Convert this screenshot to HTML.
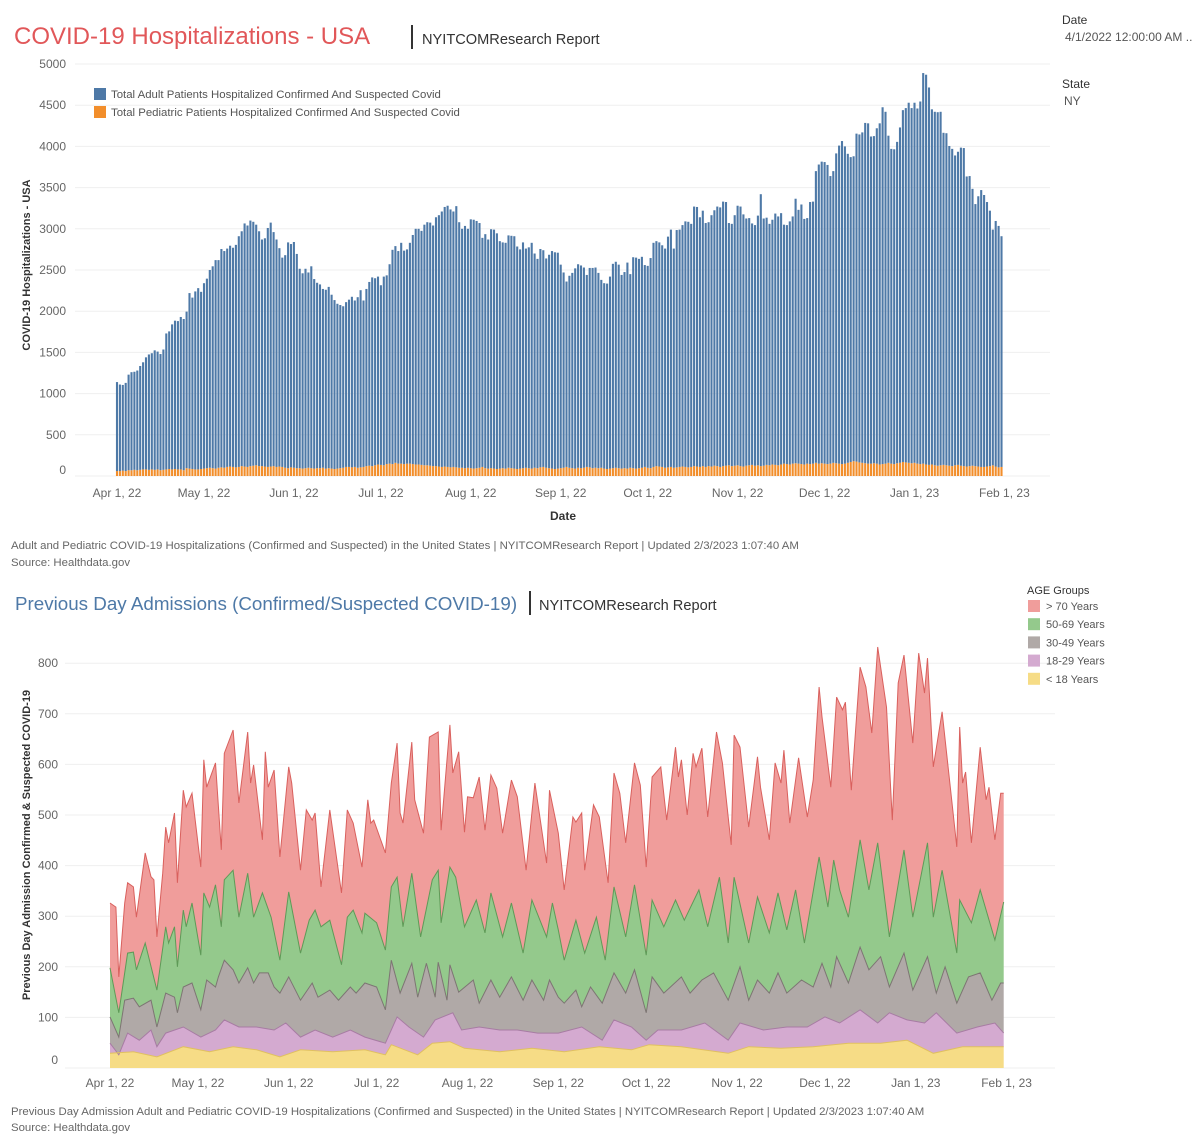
<!DOCTYPE html>
<html><head><meta charset="utf-8"><style>
body{margin:0;background:#fff;}
svg{display:block;font-family:"Liberation Sans",sans-serif;}
.tick{font-size:12px;fill:#666;}
.foot{font-size:11.4px;fill:#666;}
</style></head><body>
<svg id="page" width="1200" height="1145" viewBox="0 0 1200 1145" xmlns="http://www.w3.org/2000/svg">
<text x="14" y="44" font-size="24" fill="#e15759">COVID-19 Hospitalizations - USA</text>
<rect x="411" y="25" width="2" height="24" fill="#333"/>
<text x="422" y="44" font-size="14.6" fill="#333">NYITCOMResearch Report</text>
<text x="1062" y="24" font-size="12" fill="#333">Date</text>
<text x="1065" y="41" font-size="12" fill="#555">4/1/2022 12:00:00 AM ..</text>
<text x="1062" y="88" font-size="12" fill="#333">State</text>
<text x="1064" y="105" font-size="12" fill="#555">NY</text>
<g id="top"></g>
<text class="foot" x="11" y="549">Adult and Pediatric COVID-19 Hospitalizations (Confirmed and Suspected) in the United States | NYITCOMResearch Report | Updated 2/3/2023 1:07:40 AM</text>
<text class="foot" x="11" y="566">Source: Healthdata.gov</text>
<text x="15" y="610" font-size="18.8" fill="#4e79a7">Previous Day Admissions (Confirmed/Suspected COVID-19)</text>
<rect x="529" y="591" width="2" height="24" fill="#333"/>
<text x="539" y="610" font-size="14.6" fill="#333">NYITCOMResearch Report</text>
<g id="bot"></g>
<text class="foot" x="11" y="1115">Previous Day Admission Adult and Pediatric COVID-19 Hospitalizations (Confirmed and Suspected) in the United States | NYITCOMResearch Report | Updated 2/3/2023 1:07:40 AM</text>
<text class="foot" x="11" y="1131">Source: Healthdata.gov</text>
</svg>
<script>
// ---------- TOP CHART DATA ----------
const monthLabels = ["Apr 1, 22","May 1, 22","Jun 1, 22","Jul 1, 22","Aug 1, 22","Sep 1, 22","Oct 1, 22","Nov 1, 22","Dec 1, 22","Jan 1, 23","Feb 1, 23"];
const monthDays = [0,30,61,91,122,153,183,214,244,275,306];
const hospTicks = [0,500,1000,1500,2000,2500,3000,3500,4000,4500,5000];
const adultHosp = [
1080,1050,1040,1070,1160,1190,1190,1210,1260,1300,
1360,1400,1410,1450,1430,1410,1460,1650,1670,1760,
1800,1800,1850,1835,1900,2130,2080,2160,2200,2150,
2250,2300,2400,2450,2530,2520,2650,2630,2650,2680,
2660,2700,2800,2850,2950,2930,2980,2960,2920,2850,
2750,2770,2900,2960,2840,2760,2650,2540,2580,2740,
2710,2740,2600,2420,2370,2420,2370,2450,2300,2250,
2230,2170,2170,2200,2110,2050,2000,1980,1960,2000,
2030,2070,2020,2070,2150,2020,2150,2230,2290,2270,
2280,2180,2290,2290,2420,2600,2630,2580,2680,2590,
2600,2680,2780,2860,2860,2840,2920,2950,2950,2920,
3020,3050,3100,3150,3170,3130,3100,3170,2980,2900,
2940,2900,3020,3020,3000,2970,2780,2840,2780,2900,
2900,2860,2760,2740,2740,2820,2820,2820,2700,2660,
2740,2660,2680,2740,2600,2540,2650,2630,2540,2590,
2640,2630,2620,2470,2370,2250,2330,2370,2430,2470,
2460,2430,2330,2420,2430,2430,2370,2280,2250,2250,
2330,2480,2500,2470,2350,2380,2500,2350,2560,2560,
2540,2560,2450,2450,2550,2720,2730,2720,2690,2660,
2800,2880,2660,2880,2880,2930,2980,2980,2950,3150,
3150,3030,3100,2960,2960,3050,3100,3150,3150,3210,
3200,2940,2940,3040,3150,3150,3060,3000,3000,2930,
2920,3030,3300,3000,3000,2930,2970,3050,3020,3050,
2900,2900,2950,3000,3210,3080,3150,2980,2980,3180,
3180,3540,3630,3660,3660,3630,3490,3540,3760,3860,
3920,3850,3750,3700,3700,3980,3980,4010,4130,4130,
3970,3970,4070,4140,4330,4270,3970,3820,3820,3900,
4070,4270,4300,4370,4310,4370,4310,4400,4740,4730,
4580,4310,4290,4290,4290,4030,4030,3880,3850,3760,
3800,3860,3860,3520,3520,3360,3180,3280,3360,3300,
3210,3100,2860,2980,2930,2800];
const pedHosp = [
60,60,65,60,70,70,75,70,75,80, 80,75,80,75,80,70,75,80,85,80,
85,80,80,70,95,90,85,80,80,85, 90,95,100,95,90,100,105,100,110,115,
110,105,110,120,115,110,120,125,130,120, 120,115,110,115,120,110,115,110,100,95,
105,100,95,95,90,95,100,95,90,95, 95,100,90,95,90,85,90,95,100,110,
110,105,110,100,105,110,120,125,120,130, 140,135,130,145,150,145,160,150,150,145,
150,150,145,140,140,135,130,130,125,120, 120,115,110,115,110,105,110,105,100,100,
95,100,95,90,95,100,110,95,90,95, 90,85,90,95,90,100,95,90,85,90,
95,100,95,90,100,95,105,110,100,95, 90,85,90,95,100,110,100,95,90,100,
95,100,110,105,95,100,95,100,90,85, 90,95,100,95,90,95,90,100,95,90,
95,100,110,100,95,110,120,115,110,100, 105,110,100,105,110,115,110,105,110,120,
115,110,120,110,120,115,125,120,110,120, 125,130,120,125,130,120,115,125,130,135,
125,130,120,125,135,130,140,135,130,140, 150,145,140,150,155,150,145,140,150,145,
150,160,150,155,150,145,150,160,155,150, 145,150,160,170,180,175,165,160,155,150,
150,155,150,140,145,150,160,150,145,155, 160,170,165,160,155,160,150,145,150,140,
135,140,130,125,130,135,130,125,120,130, 135,125,120,115,120,125,120,115,110,110,
115,120,130,115,105,110];

// ---------- BOTTOM CHART DATA (cumulative stacked totals by day index) ----------
const admTicks = [0,100,200,300,400,500,600,700,800];
const ageGroups = ["> 70 Years","50-69 Years","30-49 Years","18-29 Years","< 18 Years"];
const over70Days = [0,2,3,5,6,8,9,12,14,15,16,18,19,20,22,23,25,26,28,31,32,33,36,38,39,42,44,47,48,49,52,53,54,56,58,61,62,65,67,69,70,72,75,79,81,83,86,88,89,90,94,96,98,99,100,103,104,107,109,112,113,116,117,119,121,122,124,126,128,130,132,134,137,139,142,145,149,150,153,155,158,159,161,162,165,167,170,172,174,176,179,181,183,185,188,190,193,194,195,197,199,200,202,204,207,209,212,213,215,218,221,222,225,227,229,230,232,235,238,240,242,243,246,248,250,251,253,256,258,260,262,265,267,269,271,274,276,278,279,281,284,289,290,291,292,294,297,299,300,302,304,305];
const over70Cum = [326,318,180,326,366,358,298,425,378,372,259,385,476,445,504,366,549,516,543,397,609,555,603,431,622,668,524,664,563,599,451,625,555,589,417,595,563,391,510,490,504,358,510,346,510,484,397,530,484,490,425,563,642,504,484,644,530,464,654,664,470,678,583,625,466,536,534,575,470,579,553,464,569,536,391,563,405,549,464,352,496,486,504,391,520,496,366,583,543,445,603,559,397,575,595,490,634,575,609,500,622,595,632,496,664,603,441,658,634,476,615,555,451,603,563,628,484,613,496,569,753,694,555,733,708,723,549,792,753,662,832,713,490,761,816,642,820,741,810,595,704,437,674,563,585,445,634,530,555,451,543,543];
const age5069Days = [0,3,6,8,9,12,16,19,20,22,23,25,26,28,31,32,34,36,38,39,42,44,47,49,52,55,58,61,65,68,70,72,75,79,81,83,86,87,91,94,96,98,100,103,106,110,112,113,116,118,121,125,128,130,134,137,141,144,149,151,153,155,159,162,166,169,172,176,179,183,185,189,193,196,201,204,208,211,213,218,221,225,228,231,234,237,242,245,247,249,252,256,259,262,266,271,274,279,281,284,289,290,294,297,302,305];
const age5069Cum = [198,109,227,229,194,247,154,279,247,279,200,312,279,326,223,346,318,362,279,372,391,298,385,298,346,298,213,348,227,292,312,279,292,204,298,312,267,306,287,233,358,377,279,385,259,372,391,287,397,377,279,332,267,346,259,326,227,332,259,326,273,213,292,227,298,213,358,259,362,223,332,279,332,292,352,279,377,247,377,247,338,267,346,273,352,247,417,318,411,352,298,451,352,445,259,431,298,445,298,391,227,332,287,352,253,328];
const age3049Days = [0,3,5,8,10,14,16,19,22,23,25,28,31,33,36,37,39,42,44,47,49,51,54,56,58,61,65,69,71,75,78,82,84,87,91,94,96,99,103,105,108,111,112,115,116,119,124,126,130,133,137,141,144,148,150,153,155,159,161,164,168,172,176,179,183,185,189,195,198,202,206,211,215,218,221,225,228,231,236,240,243,246,248,252,256,259,263,266,271,274,279,282,285,289,293,297,301,304,305];
const age3049Cum = [101,61,134,138,121,134,81,148,140,109,160,168,115,174,160,180,213,194,168,198,168,188,188,160,148,180,134,168,140,154,134,160,148,168,160,115,213,148,207,140,207,140,209,134,204,150,174,128,174,140,180,134,174,134,174,140,128,154,121,160,128,188,148,194,109,180,148,180,148,174,188,134,200,134,174,148,188,148,174,160,207,160,220,168,239,194,220,160,227,154,220,148,200,128,180,188,134,168,168];
const age1829Days = [0,3,6,10,14,16,19,25,31,36,39,44,50,56,60,65,70,76,82,87,94,98,102,107,111,117,120,126,133,139,146,153,161,168,172,178,183,187,195,203,211,215,223,231,238,244,249,256,262,266,272,278,282,289,296,302,305];
const age1829Cum = [49,26,69,55,75,42,69,81,61,75,95,81,81,75,89,61,75,61,75,61,49,101,81,61,95,109,75,81,75,75,69,69,81,55,95,81,55,75,75,89,55,89,75,81,81,101,89,115,89,109,95,89,109,69,81,89,69];
const under18Days = [0,8,16,25,34,42,50,58,65,76,87,94,96,105,110,116,121,133,144,155,167,178,184,195,211,218,229,240,252,263,272,281,291,305];
const under18Cum = [29,32,22,42,32,42,36,22,36,32,36,26,46,26,49,52,39,32,39,32,42,36,46,42,29,42,39,42,49,49,55,29,42,42];

const NS="http://www.w3.org/2000/svg";
function mk(parent,tag,attrs){const e=document.createElementNS(NS,tag);for(const k in attrs)e.setAttribute(k,attrs[k]);parent.appendChild(e);return e;}

// ---------- TOP CHART ----------
(function(){
const g=document.getElementById('top');
const x=d=>117+d*2.9;
const y=v=>476-v*0.0824;
hospTicks.forEach(t=>{
  const l=mk(g,'line',{x1:75,x2:1050,y1:y(t),y2:y(t),stroke:'#efefef'});
  
  
  const tx=mk(g,'text',{x:66,y:y(t)+(t===0?-2:4),'text-anchor':'end',class:'tick'});
  tx.textContent=t;
  
  
});
monthLabels.forEach((m,i)=>{
  const tx=mk(g,'text',{x:x(monthDays[i]),y:497,'text-anchor':'middle',class:'tick'});
  tx.textContent=m;
  
  
});
const xt=mk(g,'text',{x:563,y:520,'text-anchor':'middle','font-size':12,'font-weight':'bold',fill:'#333'});
xt.textContent='Date';


const yt=mk(g,'text',{x:0,y:0,'text-anchor':'middle','font-size':11,'font-weight':'bold',fill:'#333',transform:'translate(30,265) rotate(-90)'});
yt.textContent='COVID-19 Hospitalizations - USA';


adultHosp.forEach((a,i)=>{
  const p=pedHosp[i];
  const ob=mk(g,'rect',{x:x(i)-1.05,y:y(p),width:2.1,height:y(0)-y(p),fill:'#f28e2b'});
  
  
  const bb=mk(g,'rect',{x:x(i)-1.05,y:y(p+a),width:2.1,height:y(p)-y(p+a),fill:'#4e79a7'});
  
  
});
const lg=[['#4e79a7','Total Adult Patients Hospitalized Confirmed And Suspected Covid',94],['#f28e2b','Total Pediatric Patients Hospitalized Confirmed And Suspected Covid',112]];
lg.forEach(l=>{
  const r=mk(g,'rect',{x:94,y:l[2]-6,width:12,height:12,fill:l[0]});
  
  
  const t=mk(g,'text',{x:111,y:l[2]+4,'font-size':11.4,fill:'#555'});
  t.textContent=l[1];
  
  
});
})();

// ---------- BOTTOM CHART ----------
(function(){
const g=document.getElementById('bot');
const x=d=>110+d*2.93;
const y=v=>1068-v*0.506;
admTicks.forEach(t=>{
  const l=mk(g,'line',{x1:65,x2:1055,y1:y(t),y2:y(t),stroke:'#efefef'});
  
  
  const tx=mk(g,'text',{x:58,y:y(t)+(t===0?-4:4),'text-anchor':'end',class:'tick'});
  tx.textContent=t;
  
  
});
monthLabels.forEach((m,i)=>{
  const tx=mk(g,'text',{x:x(monthDays[i]),y:1087,'text-anchor':'middle',class:'tick'});
  tx.textContent=m;
  
  
});
const yt=mk(g,'text',{x:0,y:0,'text-anchor':'middle','font-size':11,'font-weight':'bold',fill:'#333',transform:'translate(30,845) rotate(-90)'});
yt.textContent='Previous Day Admission Confirmed & Suspected COVID-19';


const layers=[
 [over70Days,over70Cum,'#f09d9b','#d9605d','area-over-70'],
 [age5069Days,age5069Cum,'#94c98c','#5e9a57','area-50-69'],
 [age3049Days,age3049Cum,'#b0a9a7','#7d7573','area-30-49'],
 [age1829Days,age1829Cum,'#d4aad0','#a77ca3','area-18-29'],
 [under18Days,under18Cum,'#f6dc86','#e0c060','area-under-18']
];
layers.forEach((L,k)=>{
  const upper=L[0].map((d,i)=>[x(d),y(L[1][i])]);
  let lower;
  if(k<layers.length-1){const N=layers[k+1];lower=N[0].map((d,i)=>[x(d),y(N[1][i])]).reverse();}
  else lower=[[x(305),y(0)],[x(0),y(0)]];
  const pts=upper.concat(lower).map(p=>p[0].toFixed(1)+','+p[1].toFixed(1)).join(' ');
  const poly=mk(g,'polygon',{points:pts,fill:L[2]});
  
  
});
layers.forEach(L=>{
  const pts=L[0].map((d,i)=>x(d).toFixed(1)+','+y(L[1][i]).toFixed(1)).join(' ');
  const pl=mk(g,'polyline',{points:pts,fill:'none',stroke:L[3],'stroke-width':1});
  
  
});
const lt=mk(g,'text',{x:1027,y:594,'font-size':11,fill:'#333'});
lt.textContent='AGE Groups';


ageGroups.forEach((n,i)=>{
  const yy=606+i*18.2;
  const r=mk(g,'rect',{x:1028,y:yy-6,width:12,height:12,fill:layers[i][2]});
  
  
  const t=mk(g,'text',{x:1046,y:yy+4,'font-size':11,fill:'#555'});
  t.textContent=n;
  
  
});
})();
</script>
</body></html>
